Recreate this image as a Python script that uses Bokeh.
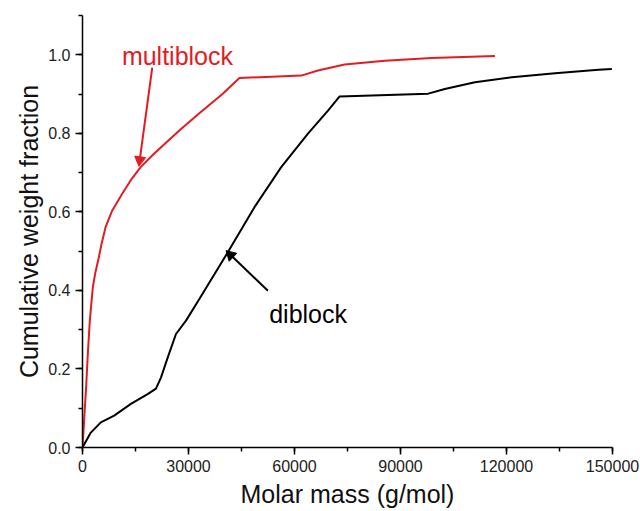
import math
from bokeh.plotting import figure
from bokeh.models import Range1d, SingleIntervalTicker, PrintfTickFormatter
from bokeh.embed import file_html
from bokeh.resources import INLINE

# ---- data ----
multiblock_mass = [0, 454, 1021, 1503, 2070, 2921, 3630, 4424, 5388, 6523, 8394,
                   11231, 13613, 16449, 20221, 27878, 33068, 39704, 44412,
                   61910, 66646, 74190, 85534, 98780, 116730]
multiblock_frac = [0.0, 0.068, 0.153, 0.238, 0.323, 0.408, 0.445, 0.476, 0.518,
                   0.561, 0.603, 0.646, 0.680, 0.714, 0.748, 0.811, 0.851,
                   0.901, 0.941, 0.947, 0.960, 0.975, 0.985, 0.992, 0.997]

diblock_mass = [0, 2354, 5190, 8962, 13698, 18434, 20788, 22206, 24106, 26460,
                29296, 33068, 41122, 48666, 56240, 63810, 69480, 72770, 97840,
                102550, 111060, 121500, 133750, 146050, 149820]
diblock_frac = [0.0, 0.038, 0.064, 0.081, 0.111, 0.136, 0.150, 0.178, 0.229,
                0.289, 0.323, 0.378, 0.497, 0.612, 0.714, 0.799, 0.858, 0.894,
                0.901, 0.913, 0.930, 0.943, 0.953, 0.962, 0.964]

x_label = "Molar mass (g/mol)"
y_label = "Cumulative weight fraction"
series_names = ["multiblock", "diblock"]

RED = "#e31b23"

X_MAX, Y_MAX = 150000, 1.1
W, H = 640, 511
ML, MR, MT, MB = 82, 28, 15, 64

p = figure(width=W, height=H, output_backend="svg", toolbar_location=None,
           x_range=Range1d(0, X_MAX), y_range=Range1d(0, Y_MAX),
           min_border_left=ML, min_border_right=MR, min_border_top=MT,
           min_border_bottom=MB)
p.outline_line_alpha = 0
p.grid.grid_line_alpha = 0

p.line(multiblock_mass, multiblock_frac, line_color=RED, line_width=2)
p.line(diblock_mass, diblock_frac, line_color="black", line_width=2)

p.xaxis.ticker = SingleIntervalTicker(interval=30000, num_minor_ticks=2)
p.yaxis.ticker = SingleIntervalTicker(interval=0.2, num_minor_ticks=2)
p.xaxis.formatter = PrintfTickFormatter(format="%d")
p.yaxis.formatter = PrintfTickFormatter(format="%.1f")

p.axis.axis_line_width = 1.5
p.axis.axis_line_color = "black"
p.axis.major_tick_line_color = "black"
p.axis.minor_tick_line_color = "black"
p.axis.major_tick_line_width = 1.5
p.axis.minor_tick_line_width = 1.5
p.axis.major_tick_out = 7
p.axis.minor_tick_out = 4
p.axis.major_tick_in = 0
p.axis.major_label_text_font_size = "16px"
p.axis.major_label_text_color = "#222222"
p.axis.axis_label_text_font_size = "25px"
p.axis.axis_label_text_font_style = "normal"
p.axis.axis_label_text_color = "#111111"

p.xaxis.axis_label = x_label
p.yaxis.axis_label = y_label
p.xaxis.major_label_standoff = 5
p.yaxis.major_label_standoff = 5
p.xaxis.axis_label_standoff = 5
p.yaxis.axis_label_standoff = 2

# annotation labels
p.text(x=[11146], y=[0.998], text=[series_names[0]], text_color=RED,
       text_font_size="25px", text_baseline="alphabetic", text_align="left")
p.text(x=[52835], y=[0.340], text=[series_names[1]], text_color="black",
       text_font_size="25px", text_baseline="alphabetic", text_align="left")

# annotation arrows (shaft as segment, head as rotated triangle marker)
px_per_x = (W - ML - MR) / X_MAX
px_per_y = (H - MT - MB) / Y_MAX

def arrow(x0, y0, x1, y1, color):
    dxp = (x1 - x0) * px_per_x
    dyp = (y1 - y0) * px_per_y
    theta = math.atan2(dyp, dxp)
    back = 4.0
    cx = x1 - back * math.cos(theta) / px_per_x
    cy = y1 - back * math.sin(theta) / px_per_y
    p.segment(x0=[x0], y0=[y0], x1=[cx], y1=[cy], line_color=color,
              line_width=2)
    p.scatter(x=[cx], y=[cy], marker="triangle", size=11,
              angle=theta - math.pi / 2, fill_color=color, line_color=color)

arrow(19740, 0.967, 16052, 0.722, RED)
arrow(52470, 0.399, 41122, 0.497, "black")

open("out.html", "w").write(file_html(p, INLINE))
